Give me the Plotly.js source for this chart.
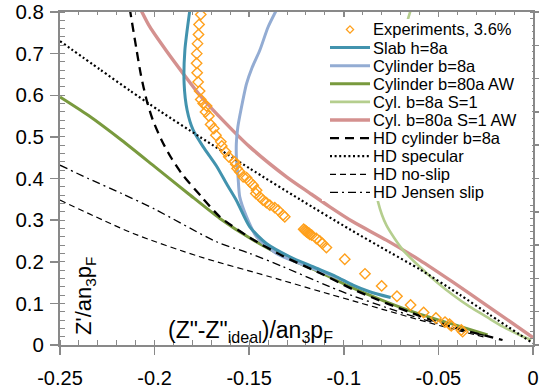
<!DOCTYPE html>
<html><head><meta charset="utf-8">
<script src="https://cdn.plot.ly/plotly-3.0.1.min.js"></script>
<style>html,body{margin:0;padding:0;background:#fff;}#chart{width:539px;height:392px;}</style>
</head><body><div id="chart"></div>
<script>
// ---------- data ----------
const seriesNames = ['Experiments, 3.6%','Slab h=8a','Cylinder b=8a','Cylinder b=80a AW','Cyl. b=8a S=1','Cyl. b=80a S=1 AW','HD cylinder b=8a','HD specular','HD no-slip','HD Jensen slip'];

const xTickVals = [-0.25,-0.2,-0.15,-0.1,-0.05,0];
const xTickText = ['-0.25','-0.2','-0.15','-0.1','-0.05','0'];
const yTickVals = [0,0.1,0.2,0.3,0.4,0.5,0.6,0.7,0.8];
const yTickText = ['0','0.1','0.2','0.3','0.4','0.5','0.6','0.7','0.8'];

const expX = [-0.1756,-0.1765,-0.1768,-0.1773,-0.1777,-0.1778,-0.1775,-0.1770,-0.1762,-0.1756,-0.1743,-0.1725,-0.1731,-0.1713,-0.1704,-0.1687,-0.1676,-0.1650,-0.1645,-0.1624,-0.1608,-0.1577,-0.1571,-0.1564,-0.1550,-0.1532,-0.1514,-0.1497,-0.1479,-0.1461,-0.1465,-0.1444,-0.1427,-0.1409,-0.1391,-0.1365,-0.1347,-0.1321,-0.1312,-0.1212,-0.1206,-0.1201,-0.1196,-0.1191,-0.1185,-0.1180,-0.1170,-0.1145,-0.1127,-0.1113,-0.1092,-0.0995,-0.0888,-0.0800,-0.0719,-0.0647,-0.0578,-0.0513,-0.0465,-0.0441,-0.0432,-0.0379,-0.0372];
const expY = [0.794,0.770,0.746,0.724,0.700,0.677,0.654,0.632,0.610,0.590,0.580,0.574,0.560,0.550,0.530,0.520,0.504,0.488,0.478,0.464,0.452,0.440,0.434,0.424,0.416,0.404,0.402,0.392,0.384,0.372,0.364,0.356,0.348,0.342,0.336,0.330,0.324,0.312,0.308,0.278,0.276,0.274,0.272,0.270,0.269,0.266,0.264,0.256,0.250,0.244,0.234,0.206,0.171,0.142,0.117,0.096,0.078,0.065,0.055,0.050,0.046,0.036,0.032];

const slabX = [-0.1812,-0.1840,-0.1844,-0.1828,-0.1796,-0.1743,-0.1673,-0.1618,-0.1566,-0.1497,-0.1409,-0.1285,-0.1163,-0.1039,-0.0951,-0.0863,-0.0752];
const slabY = [0.810,0.708,0.628,0.564,0.516,0.476,0.430,0.386,0.346,0.284,0.244,0.212,0.188,0.164,0.144,0.128,0.114];

const cyl8X = [-0.1350,-0.1400,-0.1444,-0.1486,-0.1514,-0.1544,-0.1560,-0.1568,-0.1567,-0.1559,-0.1550,-0.1514,-0.1461,-0.1356,-0.1233,-0.1110,-0.0995];
const cyl8Y = [0.810,0.764,0.708,0.665,0.628,0.564,0.524,0.484,0.444,0.404,0.356,0.308,0.260,0.220,0.196,0.175,0.154];

const cyl80X = [-0.2500,-0.2351,-0.2174,-0.1998,-0.1823,-0.1655,-0.1497,-0.1323,-0.1127,-0.0953,-0.0773,-0.0599,-0.0425,-0.0240];
const cyl80Y = [0.596,0.552,0.492,0.428,0.364,0.304,0.257,0.214,0.175,0.137,0.103,0.074,0.050,0.024];

const cylS1X = [-0.0643,-0.0663,-0.0731,-0.0784,-0.0821,-0.0832,-0.0819,-0.0775,-0.0687,-0.0599,-0.0511,-0.0423,-0.0335,-0.0247,-0.0159,-0.0071,-0.0010];
const cylS1Y = [0.810,0.780,0.684,0.564,0.444,0.384,0.344,0.288,0.228,0.188,0.152,0.120,0.092,0.068,0.044,0.024,0.012];

const cyl80S1X = [-0.2078,-0.2025,-0.1940,-0.1849,-0.1761,-0.1673,-0.1497,-0.1303,-0.1180,-0.1074,-0.0951,-0.0775,-0.0599,-0.0423,-0.0247,0];
const cyl80S1Y = [0.810,0.764,0.708,0.652,0.600,0.556,0.476,0.404,0.365,0.332,0.296,0.252,0.204,0.151,0.096,0.018];

const hdCylX = [-0.2132,-0.2095,-0.2072,-0.2042,-0.2009,-0.1963,-0.1914,-0.1857,-0.1752,-0.1655,-0.1497,-0.1323,-0.1127,-0.0953,-0.0773,-0.0599,-0.0425,-0.0282,-0.0161];
const hdCylY = [0.810,0.708,0.648,0.588,0.540,0.492,0.451,0.412,0.356,0.308,0.258,0.214,0.173,0.134,0.100,0.070,0.043,0.026,0.012];

const specX = [-0.2500,-0.2289,-0.2130,-0.1972,-0.1761,-0.1497,-0.1233,-0.0969,-0.0758,-0.0599,-0.0388,-0.0230,0];
const specY = [0.730,0.662,0.611,0.562,0.500,0.424,0.350,0.278,0.223,0.182,0.121,0.073,0.004];

const noSlipX = [-0.2500,-0.2113,-0.1761,-0.1391,-0.1074,-0.0951,-0.0775,-0.0599,-0.0423,-0.0247];
const noSlipY = [0.348,0.268,0.212,0.164,0.122,0.106,0.083,0.060,0.038,0.018];

const jensenX = [-0.2500,-0.2351,-0.2174,-0.1998,-0.1673,-0.1497,-0.1321,-0.1074,-0.0951,-0.0775,-0.0599,-0.0423,-0.0247];
const jensenY = [0.432,0.400,0.364,0.326,0.248,0.220,0.188,0.140,0.118,0.090,0.064,0.041,0.022];

// ---------- chart ----------
const W = 539, H = 392, M = {l:60, r:6, t:12, b:47};
const pw = W - M.l - M.r, ph = H - M.t - M.b;
const pX = px => (px - M.l) / pw;
const pY = py => (H - M.b - py) / ph;
const FONT = 'Liberation Sans, Arial, sans-serif';
const AX = '#898989';

function lineTrace(name, x, y, color, width, dash){
  return {type:'scatter', mode:'lines', name, x, y, showlegend:false, hoverinfo:'skip',
          line:{color, width, dash: dash || 'solid', shape:'spline', smoothing:0.7}};
}
const tSlab   = lineTrace(seriesNames[1], slabX, slabY, '#4293AE', 3);
const tCyl8   = lineTrace(seriesNames[2], cyl8X, cyl8Y, '#93ACD3', 3);
const tCyl80  = lineTrace(seriesNames[3], cyl80X, cyl80Y, '#799A3E', 3);
const tCylS1  = lineTrace(seriesNames[4], cylS1X, cylS1Y, '#B5CE8E', 2.6);
const tCyl80S = lineTrace(seriesNames[5], cyl80S1X, cyl80S1Y, '#D4918F', 3.4);
const tHdCyl  = lineTrace(seriesNames[6], hdCylX, hdCylY, '#000000', 2.3, '9px,6px');
const tSpec   = lineTrace(seriesNames[7], specX, specY, '#000000', 2.2, '2px,2.6px');
const tNoSlip = lineTrace(seriesNames[8], noSlipX, noSlipY, '#000000', 1.2, '6px,4px');
const tJensen = lineTrace(seriesNames[9], jensenX, jensenY, '#000000', 1.3, '8px,4px,2px,4px');
const tExp = {type:'scatter', mode:'markers', name:seriesNames[0], x:expX, y:expY, showlegend:false, hoverinfo:'skip',
  marker:{symbol:'diamond-open', size:8, color:'#FFA01C', line:{width:1.4, color:'#FFA01C'}}};
const tAxes = {type:'scatter', mode:'markers', x:[], y:[], xaxis:'x2', yaxis:'y2', showlegend:false, hoverinfo:'skip'};

const data = [tCyl80S, tCylS1, tCyl80, tCyl8, tSlab, tHdCyl, tSpec, tNoSlip, tJensen, tExp, tAxes];

// manual legend (legend order)
const legendTraces = [tExp, tSlab, tCyl8, tCyl80, tCylS1, tCyl80S, tHdCyl, tSpec, tNoSlip, tJensen];
const shapes = [{type:'rect', xref:'paper', yref:'paper', x0:pX(322), x1:pX(532), y0:pY(201), y1:pY(19),
                 fillcolor:'#ffffff', line:{width:0}, layer:'above'}];
const annotations = [];
const row0 = 29.5, rowStep = 18.1;
legendTraces.forEach((t, i) => {
  const cy = row0 + i * rowStep;
  if (t.mode === 'markers') {
    const cx = 350, r = 3.6;
    shapes.push({type:'path', xref:'paper', yref:'paper', layer:'above',
      path:`M${pX(cx)},${pY(cy-r)} L${pX(cx+r)},${pY(cy)} L${pX(cx)},${pY(cy+r)} L${pX(cx-r)},${pY(cy)} Z`,
      line:{color:t.marker.color, width:1.3}, fillcolor:'rgba(0,0,0,0)'});
  } else {
    shapes.push({type:'line', xref:'paper', yref:'paper', layer:'above',
      x0:pX(330), x1:pX(370), y0:pY(cy), y1:pY(cy),
      line:{color:t.line.color, width:t.line.width, dash:t.line.dash}});
  }
  annotations.push({xref:'paper', yref:'paper', x:pX(371), y:pY(cy), xanchor:'left', yanchor:'middle',
    text:t.name, showarrow:false, font:{family:FONT, size:16.5, color:'#000'}});
});
// axis titles placed inside the plot as in the reference
annotations.push({xref:'paper', yref:'paper', x:pX(250), y:pY(331), xanchor:'center', yanchor:'middle',
  text:'(Z"-Z"<sub>ideal</sub>)/an<sub>3</sub>p<sub>F</sub>', showarrow:false, font:{family:FONT, size:23, color:'#000'}});
annotations.push({xref:'paper', yref:'paper', x:pX(85), y:pY(296), xanchor:'center', yanchor:'middle', textangle:-90,
  text:"Z'/an<sub>3</sub>p<sub>F</sub>", showarrow:false, font:{family:FONT, size:22, color:'#000'}});

const layout = {
  width:W, height:H, margin:M, paper_bgcolor:'#fff', plot_bgcolor:'#fff', showlegend:false,
  font:{family:FONT, size:20, color:'#000'},
  xaxis:{range:[-0.25,0], tickmode:'array', tickvals:xTickVals, ticktext:xTickText,
    showline:true, linecolor:AX, linewidth:2, ticks:'outside', ticklen:8, tickwidth:1.5, tickcolor:AX,
    showgrid:false, zeroline:false, ticklabelstandoff:6, tickfont:{size:20},
    minor:{ticks:'inside', ticklen:5, tickwidth:1, tickcolor:AX, dtick:0.01, tick0:0, showgrid:false}},
  yaxis:{range:[0,0.8], tickmode:'array', tickvals:yTickVals, ticktext:yTickText,
    showline:true, linecolor:AX, linewidth:2, ticks:'outside', ticklen:8, tickwidth:1.5, tickcolor:AX,
    showgrid:false, zeroline:false, ticklabelstandoff:2, tickfont:{size:20.5},
    minor:{ticks:'inside', ticklen:5, tickwidth:1, tickcolor:AX, dtick:0.02, tick0:0, showgrid:false}},
  xaxis2:{range:[-0.25,0], overlaying:'x', side:'top', anchor:'y2', showline:true, linecolor:AX, linewidth:2,
    ticks:'inside', ticklen:5, tickwidth:1.5, tickcolor:AX, dtick:0.05, tick0:0, showticklabels:false,
    showgrid:false, zeroline:false,
    minor:{ticks:'inside', ticklen:3, tickwidth:1, tickcolor:AX, dtick:0.01, tick0:0, showgrid:false}},
  yaxis2:{range:[0,1], overlaying:'y', side:'right', anchor:'x2', showline:true, linecolor:AX, linewidth:2,
    ticks:'outside', ticklen:5, tickwidth:1.5, tickcolor:AX, dtick:0.1, tick0:0, showticklabels:false,
    showgrid:false, zeroline:false,
    minor:{ticks:'inside', ticklen:3, tickwidth:1, tickcolor:AX, dtick:0.02, tick0:0, showgrid:false}},
  shapes, annotations
};
Plotly.newPlot('chart', data, layout, {displayModeBar:false, staticPlot:true});
</script></body></html>
